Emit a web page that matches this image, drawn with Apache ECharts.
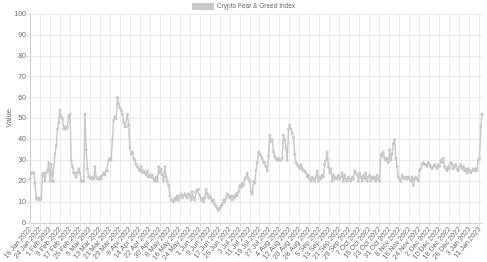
<!DOCTYPE html>
<html>
<head>
<meta charset="utf-8">
<script src="https://cdn.jsdelivr.net/npm/echarts@6/dist/echarts.min.js"></script>
<style>
html,body{margin:0;padding:0;background:#fff;}
#chart{width:487px;height:262px;}
</style>
</head>
<body>
<div id="chart"></div>
<script>
// Daily Fear & Greed values, starting 16 Jan 2022
const startDate = [2022, 0, 16];
const seriesName = 'Crypto Fear & Greed Index';
const values = [
  21,24,24,24,19,12,11,12,11,12,
  23,24,20,24,25,29,20,28,20,20,
  33,37,45,48,54,51,50,45,46,45,
  46,51,52,30,27,24,24,22,24,26,
  24,20,20,20,52,35,26,22,22,21,
  22,21,27,22,21,21,22,21,23,24,
  23,25,25,30,31,30,40,49,51,50,
  60,57,55,54,52,48,46,46,52,47,
  36,33,34,31,30,28,27,26,25,27,
  24,25,24,23,25,22,23,22,23,21,
  20,22,20,27,24,26,23,20,27,22,
  20,18,13,11,11,10,12,11,13,11,
  13,14,12,13,14,13,12,14,13,11,
  15,12,11,15,16,16,13,11,12,10,
  12,16,14,12,13,12,10,11,9,8,
  7,6,7,8,9,11,10,12,14,13,
  12,13,11,13,12,14,13,15,18,17,
  19,18,21,22,24,21,20,15,14,20,
  19,25,29,34,33,32,31,29,29,27,
  25,32,42,39,40,34,32,31,30,31,
  30,30,31,42,40,36,30,45,47,45,
  43,41,33,29,28,27,26,28,26,25,
  25,24,22,23,21,20,22,21,20,22,
  25,20,22,21,23,22,28,30,34,27,
  24,26,20,23,21,22,21,23,21,22,
  24,20,23,21,20,22,21,20,22,21,
  25,24,23,20,24,22,20,23,21,24,
  20,22,23,20,22,21,22,20,23,21,
  20,33,32,34,31,30,31,29,35,30,
  33,38,40,31,27,22,21,20,23,22,
  21,22,21,22,21,20,22,18,21,22,
  21,20,25,26,28,29,28,28,27,29,
  28,27,26,27,28,27,26,28,27,30,
  29,31,27,26,25,27,26,29,28,26,
  27,28,26,25,27,28,26,27,25,26,
  24,26,25,24,25,26,25,26,25,30,
  31,46,52
];
const yTicks = [0,10,20,30,40,50,60,70,80,90,100];
const monthNames = ['Jan','Feb','Mar','Apr','May','Jun','Jul','Aug','Sep','Oct','Nov','Dec'];

const categories = values.map((v, i) => {
  const d = new Date(Date.UTC(startDate[0], startDate[1], startDate[2] + i));
  return d.getUTCDate() + ' ' + monthNames[d.getUTCMonth()] + ' ' + d.getUTCFullYear();
});

const chart = echarts.init(document.getElementById('chart'), null, {renderer: 'canvas'});
const font = 'Liberation Sans, Arial, Helvetica, sans-serif';
chart.setOption({
  animation: false,
  backgroundColor: '#fff',
  legend: {
    top: 3,
    left: 192,
    icon: 'rect',
    itemWidth: 22,
    itemHeight: 7,
    itemGap: 4,
    padding: 0,
    textStyle: {color: '#666', fontSize: 6.5, fontFamily: font, padding: [0, 0, 0, -2]},
    data: [seriesName]
  },
  grid: {left: 30, right: 5, top: 14, bottom: 39, containLabel: false, outerBoundsMode: 'none'},
  xAxis: {
    type: 'category',
    boundaryGap: false,
    data: categories,
    axisLine: {lineStyle: {color: '#d0d0d0'}},
    axisTick: {show: true, interval: 7, length: 4, lineStyle: {color: '#e0e0e0'}},
    axisLabel: {interval: 7, rotate: 50, color: '#666', fontSize: 7, fontFamily: font, margin: 5},
    splitLine: {show: true, interval: 7, lineStyle: {color: '#ebebeb', width: 1}}
  },
  yAxis: {
    type: 'value',
    min: yTicks[0],
    max: yTicks[yTicks.length - 1],
    interval: 10,
    name: 'Value',
    nameLocation: 'middle',
    nameGap: 17,
    nameMoveOverlap: false,
    nameTextStyle: {color: '#666', fontSize: 7.5, fontFamily: font},
    axisLine: {show: true, lineStyle: {color: '#d0d0d0'}},
    axisTick: {show: true, length: 4, lineStyle: {color: '#e0e0e0'}},
    axisLabel: {color: '#666', fontSize: 7, fontFamily: font, margin: 4},
    splitLine: {show: true, lineStyle: {color: '#ebebeb', width: 1}}
  },
  series: [{
    name: seriesName,
    type: 'line',
    data: values,
    color: '#c9c9c9',
    symbol: 'circle',
    symbolSize: 3,
    showSymbol: true,
    showAllSymbol: true,
    itemStyle: {color: '#c9c9c9'},
    lineStyle: {color: '#c9c9c9', width: 1.5}
  }]
});
</script>
</body>
</html>
